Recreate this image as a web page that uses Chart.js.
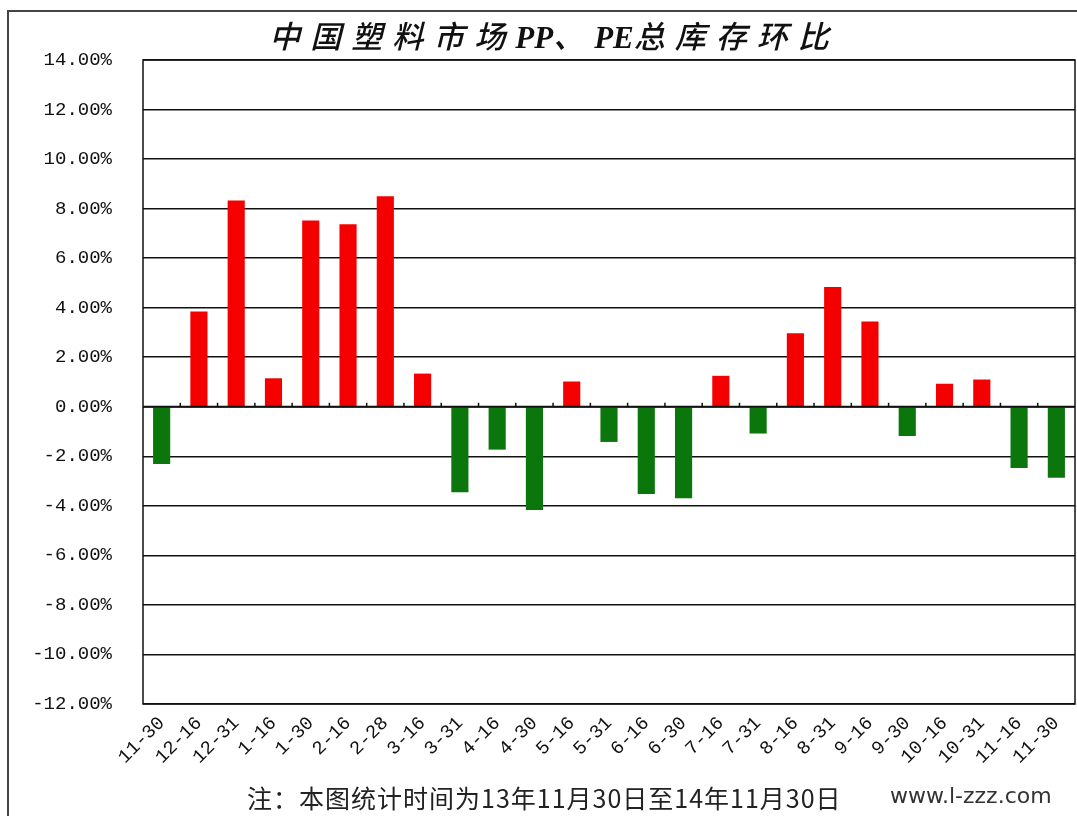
<!DOCTYPE html>
<html>
<head>
<meta charset="utf-8">
<script src="https://cdn.jsdelivr.net/npm/chart.js@4.4.0/dist/chart.umd.min.js"></script>
<style>
  body { margin: 0; background: #fff; }
  #wrap { position: relative; width: 1077px; height: 816px; overflow: hidden; }
  #frame { position: absolute; left: 7px; top: 10px; width: 1120px; height: 860px; border: 2px solid #444; box-sizing: border-box; }
  #title { position: absolute; left: 0; top: 22px; width: 1108px; text-align: center;
           font: italic 500 31px "Liberation Serif", "Noto Sans CJK SC", serif; line-height: 32px;
           color: #111; white-space: nowrap; }
  #title .cn { letter-spacing: 10px; }
  #title .lat { font-weight: bold; letter-spacing: 0; }
  #note { position: absolute; left: 247px; top: 784px; font: 25px "Noto Sans CJK SC", sans-serif;
          line-height: 26px; letter-spacing: 1px; color: #222; }
  #site { position: absolute; left: 890px; top: 784px; font: 22px "DejaVu Sans", sans-serif;
          line-height: 24px; color: #333; }
  canvas { position: absolute; left: 0; top: 0; }
</style>
</head>
<body>
<div id="wrap">
  <div id="frame"></div>
  <canvas id="chart" width="1077" height="816"></canvas>
  <div id="title"><span class="cn">中国塑料市场</span><span class="lat">PP</span><span class="cn">、</span><span class="lat">PE</span><span class="cn">总库存环比</span></div>
  <div id="note">注：本图统计时间为13年11月30日至14年11月30日</div>
  <div id="site">www.l-zzz.com</div>
</div>
<script>
// date labels (month-day), 2013-11-30 .. 2014-11-30
const categories = ["11-30", "12-16", "12-31", "1-16", "1-30", "2-16", "2-28", "3-16", "3-31", "4-16",
                    "4-30", "5-16", "5-31", "6-16", "6-30", "7-16", "7-31", "8-16", "8-31", "9-16",
                    "9-30", "10-16", "10-31", "11-16", "11-30"];
// PP+PE total inventory, change vs previous period (%)
const changes = [-2.31, 3.85, 8.33, 1.15, 7.52, 7.37, 8.50, 1.34, -3.45, -1.73,
                 -4.17, 1.02, -1.42, -3.52, -3.69, 1.25, -1.08, 2.97, 4.84, 3.44,
                 -1.18, 0.93, 1.10, -2.47, -2.87];
// y axis ticks
const yMin = -12;
const yMax = 14;
const yStep = 2;

const upColor = "#f50000";
const downColor = "#0b760b";

// box round the plot + small ticks on the zero line
const plotFrame = {
    id: "plotFrame",
    afterDatasetsDraw(chart) {
        const { ctx, chartArea: a, scales: { x, y } } = chart;
        const y0 = y.getPixelForValue(0);
        ctx.save();
        ctx.strokeStyle = "#111";
        ctx.lineWidth = 1.5;
        ctx.strokeRect(a.left, a.top, a.width, a.height);
        ctx.lineWidth = 2.2;
        ctx.beginPath();
        ctx.moveTo(a.left, y0);
        ctx.lineTo(a.right, y0);
        ctx.stroke();
        ctx.lineWidth = 1.5;
        ctx.beginPath();
        for (let i = 1; i < categories.length; i++) {
            const bx = (x.getPixelForValue(i - 1) + x.getPixelForValue(i)) / 2;
            ctx.moveTo(bx, y0);
            ctx.lineTo(bx, y0 - 4);
        }
        ctx.stroke();
        ctx.restore();
    }
};

const ctx = document.getElementById("chart").getContext("2d");
new Chart(ctx, {
    type: "bar",
    data: {
        labels: categories,
        datasets: [{
            data: changes,
            backgroundColor: changes.map(v => v >= 0 ? upColor : downColor),
            barPercentage: 0.46,
            categoryPercentage: 1
        }]
    },
    options: {
        responsive: false,
        animation: false,
        devicePixelRatio: 1,
        layout: { padding: { top: 60, right: 2, bottom: 0, left: 0 } },
        plugins: {
            legend: { display: false },
            title: { display: false },
            tooltip: { enabled: false }
        },
        scales: {
            x: {
                grid: { display: false },
                border: { display: false },
                ticks: {
                    minRotation: 45,
                    maxRotation: 45,
                    autoSkip: false,
                    padding: 0,
                    color: "#111",
                    font: { family: "Liberation Mono", size: 19 }
                },
                afterFit(scale) { scale.height = 112; }
            },
            y: {
                min: yMin,
                max: yMax,
                grid: {
                    color: "#111",
                    lineWidth: 1.5,
                    drawTicks: false
                },
                border: { display: false },
                ticks: {
                    stepSize: yStep,
                    padding: 31,
                    color: "#111",
                    font: { family: "Liberation Mono", size: 19 },
                    callback: v => v.toFixed(2) + "%"
                },
                afterFit(scale) { scale.width = 143; }
            }
        }
    },
    plugins: [plotFrame]
});
</script>
</body>
</html>
